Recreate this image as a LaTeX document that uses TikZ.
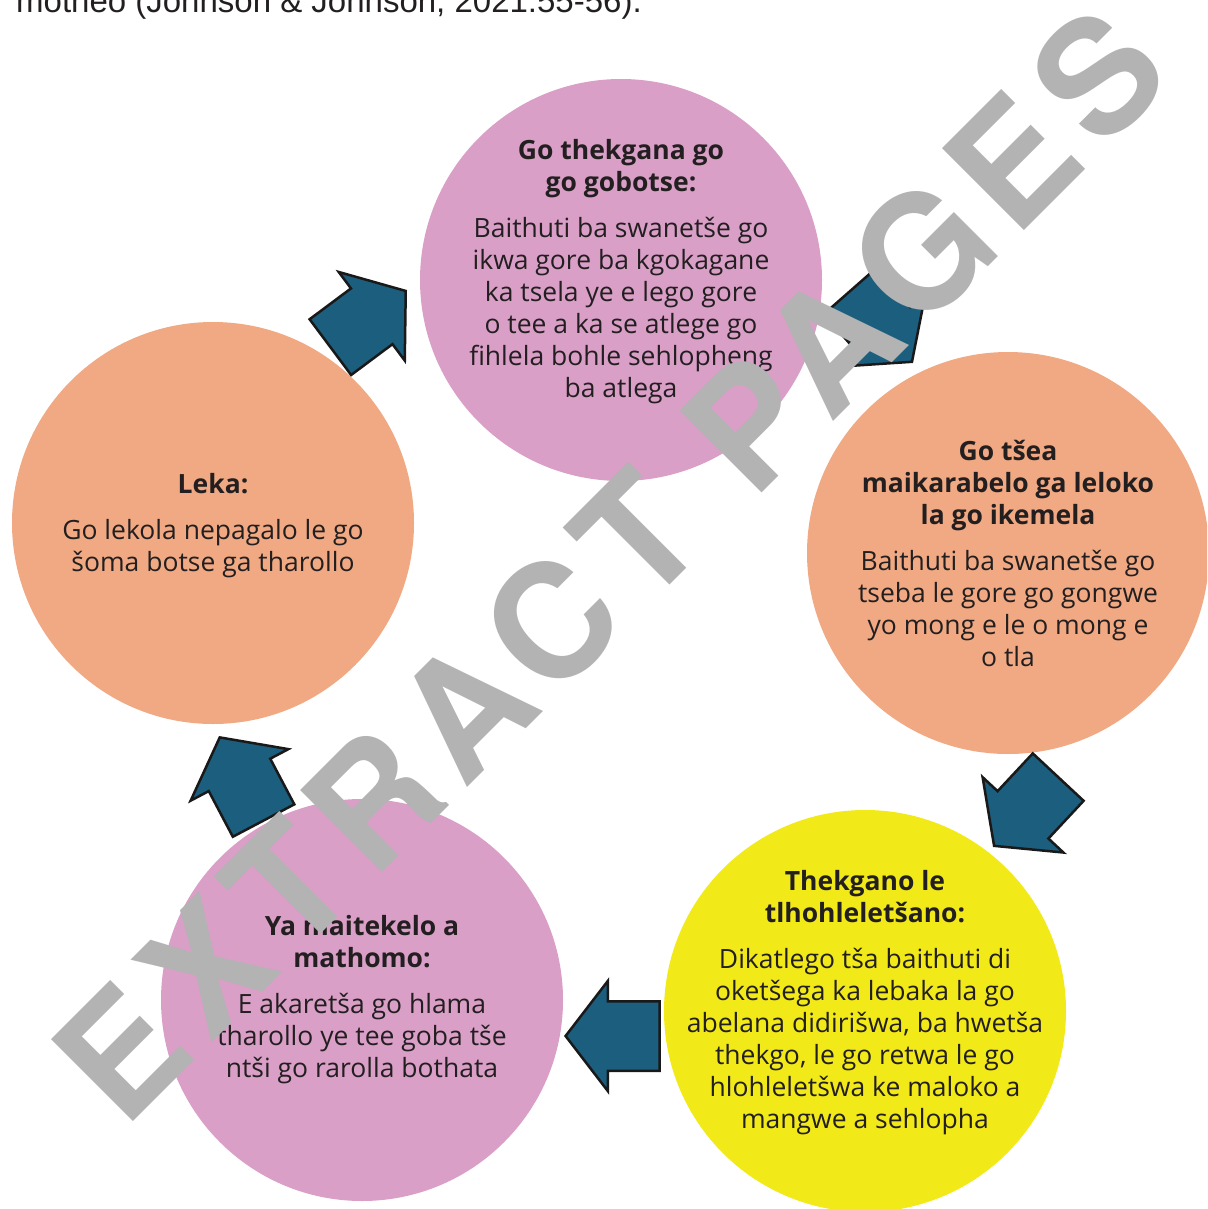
\documentclass[tikz,border=0pt]{standalone}
\usepackage{fontspec}
\setmainfont{Open Sans}
\newfontfamily\markfont[LetterSpace=9]{TeX Gyre Heros}
\newfontfamily\citefont{Liberation Sans}
\usepackage{xcolor}
\usetikzlibrary{shapes.arrows,positioning,calc}

\definecolor{pinkc}{RGB}{217,159,199}
\definecolor{orangec}{RGB}{240,169,130}
\definecolor{yellowc}{RGB}{242,233,25}
\definecolor{arrowc}{RGB}{28,94,126}
\definecolor{markc}{RGB}{179,179,179}
\definecolor{inkc}{RGB}{35,31,32}

\begin{document}
\begin{tikzpicture}[x=1pt,y=-1pt,
  bubble/.style={circle,fill=#1,minimum size=402pt,inner sep=0pt},
  txt/.style={align=center,text=inkc,inner sep=0pt,
              font=\fontsize{26.5}{32}\selectfont},
  flow/.style={single arrow,draw=black!90,line width=2.5pt,fill=arrowc,
               minimum height=94pt,minimum width=108pt,
               inner xsep=0pt,inner ysep=33.5pt,
               single arrow head extend=20.5pt,single arrow tip angle=105,
               anchor=tip,rotate=#1}]
  \useasboundingbox (0,0) rectangle (1207,1209);
  \clip (0,0) rectangle (1207,1209);

  % cut-off line of the running text
  \node[anchor=base west,inner sep=0pt,text=inkc,
        font=\citefont\fontsize{33}{33}\selectfont] (cite) at (16,13)
        {motheo (Johnson \& Johnson, 2021:55-56).};

  % the five stages
  \node[bubble=pinkc]   (goals) at (621,280) {};
  \node[bubble=orangec] (roles) at (1008,553) {};
  \node[bubble=yellowc] (talk)  at (865,1011) {};
  \node[bubble=pinkc]   (skill) at (362,1000) {};
  \node[bubble=orangec] (try)   at (213,523) {};

  \node[txt] (goals-t) at ([yshift=8pt]goals.center)
    {\textbf{Go thekgana go}\\\textbf{go gobotse:}\\[14pt]
     Baithuti ba swanetše go\\ikwa gore ba kgokagane\\ka tsela ye e lego gore\\
     o tee a ka se atlege go\\fihlela bohle sehlopheng\\ba atlega};
  \node[txt] (roles-t) at (roles.center)
    {\textbf{Go tšea}\\\textbf{maikarabelo ga leloko}\\\textbf{la go ikemela}\\[14pt]
     Baithuti ba swanetše go\\tseba le gore go gongwe\\yo mong e le o mong e\\o tla};
  \node[txt] (talk-t) at ([yshift=8pt]talk.center)
    {\textbf{Thekgano le}\\\textbf{tlhohleletšano:}\\[14pt]
     Dikatlego tša baithuti di\\oketšega ka lebaka la go\\abelana didirišwa, ba hwetša\\
     thekgo, le go retwa le go\\hlohleletšwa ke maloko a\\mangwe a sehlopha};
  \node[txt] (skill-t) at (skill.center)
    {\textbf{Ya maitekelo a}\\\textbf{mathomo:}\\[14pt]
     E akaretša go hlama\\tharollo ye tee goba tše\\ntši go rarolla bothata};
  \node[txt] (try-t) at ([yshift=-3pt]try.center)
    {\textbf{Leka:}\\[14pt]Go lekola nepagalo le go\\šoma botse ga tharollo};

  % block arrows round the cycle (placed by their tips)
  \node[flow=36.7]  (try-goals)   at (407,290) {};
  \node[flow=-48.7] (goals-roles) at (913,363) {};
  \node[flow=-133]  (roles-talk)  at (993,847) {};
  \node[flow=180]   (talk-skill)  at (564,1036) {};
  \node[flow=117.8] (skill-try)   at (219,736) {};

  % stamp over everything
  \node[anchor=base west,inner sep=0pt,rotate=45,text=markc,
        font=\markfont\bfseries\fontsize{159}{159}\selectfont] (stamp)
        at (124,1131) {EXTRACT PAGES};
\end{tikzpicture}
\end{document}
